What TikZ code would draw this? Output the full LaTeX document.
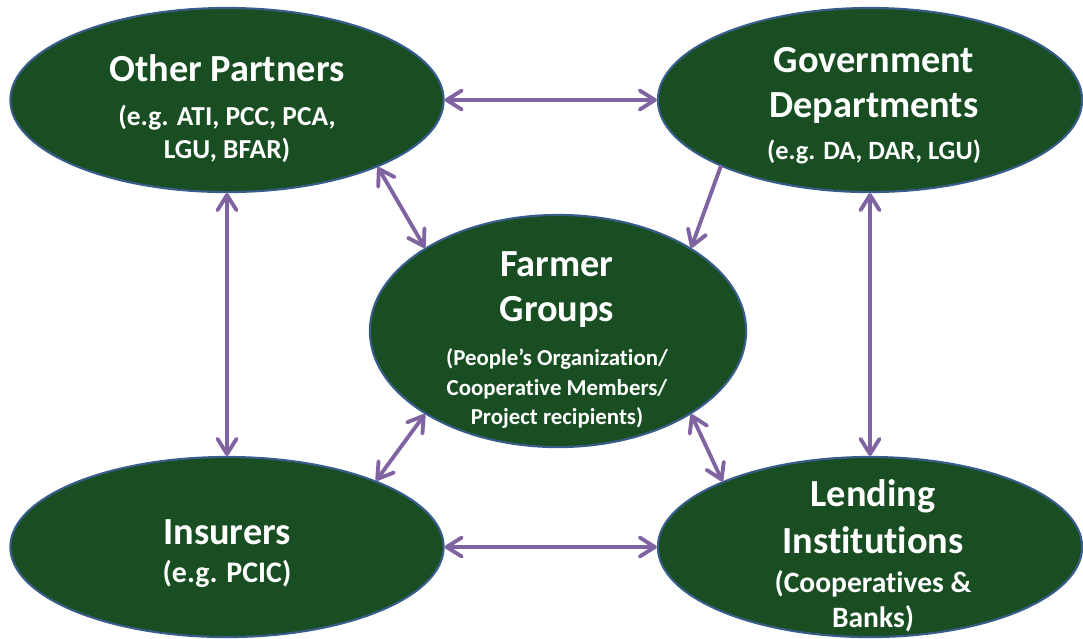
\documentclass[tikz,border=0pt]{standalone}
\usepackage{fontspec}
\setmainfont{Carlito}[Ligatures=NoCommon,RawFeature={-clig}]
\usetikzlibrary{shapes.geometric,arrows.meta}
\definecolor{leafgreen}{RGB}{24,78,34}
\definecolor{rimblue}{RGB}{56,93,138}
\definecolor{linkpurple}{RGB}{128,100,162}
\newcommand\hd[1]{{\fontsize{10.9}{12.8}\selectfont #1}}
\begin{document}
\begin{tikzpicture}[x=0.01cm,y=-0.01cm,
    blob/.style={ellipse,draw=rimblue,line width=0.6pt,fill=leafgreen,inner sep=0pt},
    words/.style={text=white,align=center,anchor=north,inner sep=0pt,
      font=\bfseries\fontsize{#1}{12.8}\selectfont},
    link/.style={draw=linkpurple,line width=1.1pt,line cap=round,
      >={Straight Barb[length=4.3pt,width=5.4pt,round]},<->}]
    \useasboundingbox (0,0) rectangle (1083,638);
    \clip (0,0) rectangle (1083,638);
    \node[blob,minimum width=4.33cm,minimum height=1.84cm] (partners) at (227,100) {};
    \node[blob,minimum width=4.24cm,minimum height=1.84cm] (govt) at (870,100) {};
    \node[blob,minimum width=3.76cm,minimum height=2.32cm] (farmers) at (558,331) {};
    \node[blob,minimum width=4.33cm,minimum height=1.80cm] (insurers) at (227,547) {};
    \node[blob,minimum width=4.24cm,minimum height=1.80cm] (lenders) at (870,547) {};
    \node[words=7.8] (partners-txt) at (227,54)
      {\hd{Other Partners}\\[-0.3pt](e.g. ATI, PCC, PCA,\\[-3.4pt]LGU, BFAR)};
    \node[words=7.5] (govt-txt) at (874,47)
      {\hd{Government}\\\hd{Departments}\\[-0.9pt](e.g. DA, DAR, LGU)};
    \node[words=6.5] (farmers-txt) at (557,251)
      {\hd{Farmer}\\\hd{Groups}\\[-0.3pt](People’s Organization/\\[-4.2pt]Cooperative Members/\\[-4.5pt]Project recipients)};
    \node[words=8.5] (insurers-txt) at (227,519)
      {\hd{Insurers}\\[-2pt](e.g. PCIC)};
    \node[words=8.4] (lenders-txt) at (873,479)
      {\hd{Lending}\\[0.6pt]\hd{Institutions}\\[-1.7pt](Cooperatives \&\\[-2.8pt]Banks)};
    \draw[link] (partners.east) -- (govt.west);
    \draw[link] (insurers.east) -- (lenders.west);
    \draw[link] (partners.south) -- (insurers.north);
    \draw[link] (govt.south) -- (lenders.north);
    \draw[link] (partners.-24) -- (farmers.148);
    \draw[link,->] (govt.-156) -- (farmers.32);
    \draw[link] (insurers.24) -- (farmers.-148);
    \draw[link] (farmers.-32) -- (lenders.156);
\end{tikzpicture}
\end{document}
